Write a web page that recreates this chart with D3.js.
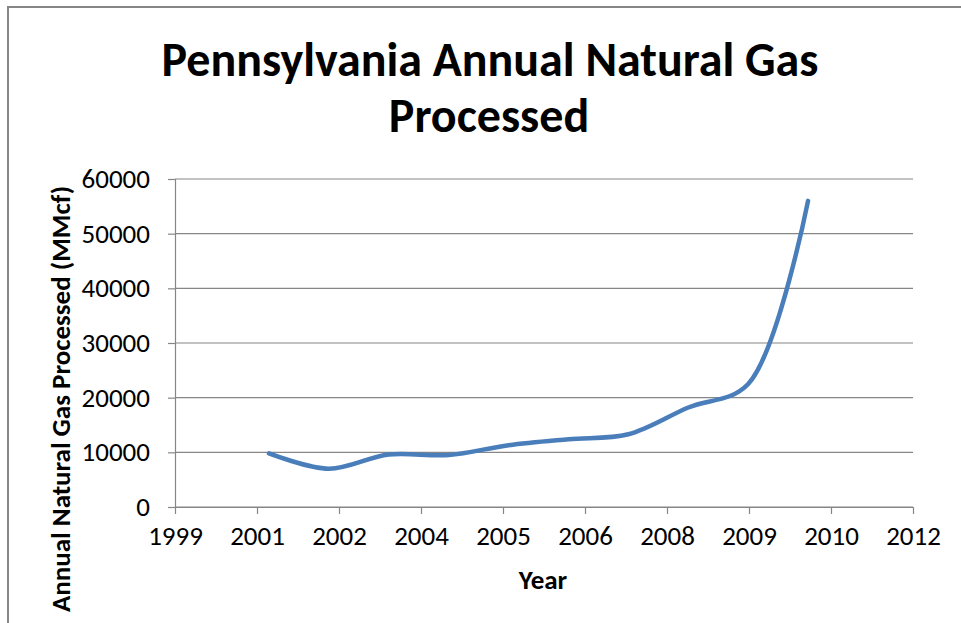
<!DOCTYPE html>
<html>
<head>
<meta charset="utf-8">
<script src="https://cdn.jsdelivr.net/npm/d3@7"></script>
<style>
  html,body{margin:0;padding:0;background:#fff;}
  text{font-family:Carlito,Lato,sans-serif;fill:#000;}
</style>
</head>
<body>
<svg id="chart" width="961" height="623"></svg>
<script>
// data (value on July 1 of each year)
const years=[2001,2002,2003,2004,2005,2006,2007,2008,2009,2010]
const gas=[9800,7000,9600,9500,11300,12400,13300,18200,22500,56000]
const yTicks=[0,10000,20000,30000,40000,50000,60000]

let width=961
let height=623
let plotLeft=175, plotRight=913, plotTop=179, plotBottom=507

const svg=d3.select("#chart")

// chart area border (only top and left show in the picture)
svg.append("rect")
  .attr("x",8).attr("y",7)
  .attr("width",width+20).attr("height",height+20)
  .attr("fill","#fff")
  .attr("stroke","#868686")
  .attr("stroke-width",2)

// excel date axis: 36500..41000 serial days, major unit 500 days
const start=new Date(Date.UTC(1999,11,6))
const end=new Date(Date.UTC(2012,3,1))
const xTicks=d3.range(0,10).map(i=>d3.utcDay.offset(start,i*500))

const xscale=d3.scaleUtc().domain([start,end]).range([plotLeft,plotRight])
const yscale=d3.scaleLinear().domain([0,60000]).range([plotBottom,plotTop])

// gridlines
svg.append("g")
  .selectAll("line")
  .data(yTicks)
  .enter()
  .append("line")
  .attr("x1",plotLeft).attr("x2",plotRight)
  .attr("y1",d=>yscale(d)).attr("y2",d=>yscale(d))
  .attr("stroke","#868686")
  .attr("stroke-width",1.2)

const yaxis=d3.axisLeft(yscale).tickValues(yTicks).tickSize(7).tickPadding(18).tickFormat(d=>d)
svg.append("g").attr("id","y-axis")
  .attr("transform",`translate(${plotLeft},0)`)
  .call(yaxis)

const xaxis=d3.axisBottom(xscale).tickValues(xTicks).tickSize(7).tickPadding(12)
  .tickFormat(d3.utcFormat("%Y"))
svg.append("g").attr("id","x-axis")
  .attr("transform",`translate(0,${plotBottom})`)
  .call(xaxis)

svg.selectAll("#x-axis .domain, #y-axis .domain")
  .attr("stroke","#868686").attr("stroke-width",1.2)
svg.selectAll("#x-axis .tick line, #y-axis .tick line")
  .attr("stroke","#868686").attr("stroke-width",1.2)
svg.selectAll("#x-axis text, #y-axis text")
  .attr("font-size",27).attr("fill","#000")
  .style("font-family","Carlito,Lato,sans-serif")
svg.select("#y-axis .domain").attr("d",`M0.5,${plotTop}V${plotBottom}`)
svg.select("#x-axis .domain").attr("d",`M${plotLeft},0.5H${plotRight}`)

// the smoothed line
const dataset=years.map((y,i)=>[new Date(Date.UTC(y,6,1)),gas[i]])
const line=d3.line()
  .x(d=>xscale(d[0]))
  .y(d=>yscale(d[1]))
  .curve(d3.curveCatmullRom.alpha(0.5))
svg.append("path")
  .datum(dataset)
  .attr("d",line)
  .attr("fill","none")
  .attr("stroke","#4A7EBB")
  .attr("stroke-width",4.5)
  .attr("stroke-linecap","round")
  .attr("stroke-linejoin","round")

// titles
svg.append("text")
  .attr("x",490).attr("y",76)
  .attr("text-anchor","middle")
  .attr("font-size",48).attr("font-weight","bold")
  .text("Pennsylvania Annual Natural Gas")
svg.append("text")
  .attr("x",489).attr("y",132)
  .attr("text-anchor","middle")
  .attr("font-size",48).attr("font-weight","bold")
  .text("Processed")

svg.append("text")
  .attr("x",543).attr("y",589)
  .attr("text-anchor","middle")
  .attr("font-size",27).attr("font-weight","bold")
  .text("Year")

svg.append("text")
  .attr("transform","translate(70,399) rotate(-90)")
  .attr("text-anchor","middle")
  .attr("font-size",27).attr("font-weight","bold")
  .text("Annual Natural Gas Processed (MMcf)")
</script>
</body>
</html>
